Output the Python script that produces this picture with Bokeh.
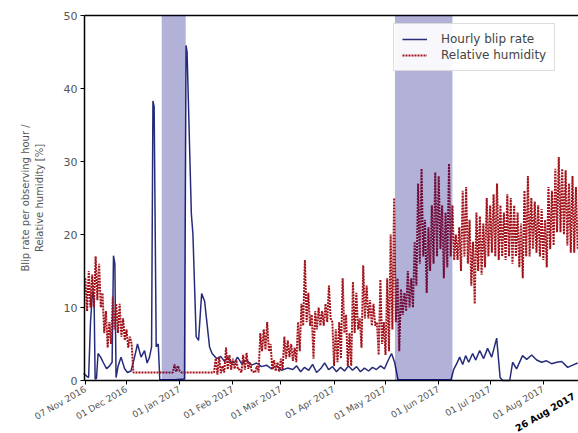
import numpy as np
import pandas as pd
from math import pi
from bokeh.plotting import figure
from bokeh.models import (Range1d, FixedTicker, DatetimeTickFormatter, LinearAxis,
                          BoxAnnotation, Legend, LegendItem, Label, ColumnDataSource)
from bokeh.embed import file_html
from bokeh.resources import INLINE

# ---------------- data ----------------
series_start = "2016-11-07"

# hourly blip rate: day offset from series_start, value
blip_day = [-1.0, 0.7, 1.9, 3.0, 4.2, 5.1, 5.7, 6.5, 7.4, 8.9,
            10.6, 12.4, 14.1, 15.6, 16.4, 17.2, 17.9, 19.1, 20.8, 22.9,
            24.6, 26.6, 28.7, 30.4, 32.5, 34.5, 36.0, 37.4, 38.6, 39.4,
            40.1, 41.3, 42.5, 43.4, 52.0, 57.8, 58.7, 59.3, 61.8, 62.7,
            64.6, 66.0, 67.8, 69.5, 72.4, 73.9, 76.5, 78.9, 81.2, 82.9,
            85.2, 87.0, 88.7, 91.1, 94.0, 96.9, 99.8, 102.7, 105.6, 108.6,
            111.5, 114.4, 117.9, 120.9, 123.2, 125.5, 127.8, 130.2, 132.5, 134.8,
            137.1, 139.5, 141.8, 144.1, 146.4, 148.8, 151.1, 153.4, 155.8, 158.1,
            160.4, 162.7, 165.1, 167.4, 169.7, 172.1, 174.4, 176.2, 178.5, 180.3,
            182.3, 197.8, 213.2, 214.7, 216.5, 218.2, 220.0, 221.7, 223.5, 225.8,
            227.6, 229.9, 232.2, 234.5, 236.9, 239.8, 241.8, 243.3, 247.4, 249.1,
            251.4, 254.9, 257.3, 260.2, 263.1, 266.0, 268.9, 271.8, 274.8, 277.7,
            281.2, 284.1, 287.0]
blip_rate = [1.0, 0.6, 0.4, 8.0, 12.3, 11.0, 0.2, 0.3, 3.7, 3.2,
             2.4, 1.6, 2.0, 2.5, 17.1, 16.0, 0.4, 2.0, 3.2, 1.6,
             1.1, 1.3, 3.2, 5.0, 3.2, 4.1, 2.4, 3.2, 4.6, 38.3,
             37.5, 4.6, 5.0, 0.1, 0.1, 0.2, 45.9, 45.0, 22.8, 20.1,
             6.0, 5.5, 11.9, 10.9, 4.6, 3.7, 3.0, 3.3, 2.6, 3.2,
             2.4, 2.5, 3.2, 2.3, 2.8, 2.1, 2.4, 1.9, 2.1, 1.6,
             2.0, 1.4, 1.7, 1.5, 2.0, 1.2, 1.8, 1.4, 2.2, 1.1,
             1.6, 2.4, 1.5, 1.9, 1.2, 1.8, 1.3, 2.0, 1.4, 1.9,
             1.2, 1.7, 1.3, 1.8, 1.5, 2.0, 1.6, 2.6, 3.7, 2.5,
             0.1, 0.1, 0.1, 1.5, 2.3, 3.2, 2.2, 3.4, 2.5, 3.7,
             2.8, 4.1, 3.0, 4.4, 3.2, 5.8, 0.4, 0.0, 0.0, 2.5,
             1.6, 3.4, 2.9, 3.5, 2.8, 2.5, 2.7, 2.3, 2.5, 2.6,
             1.8, 2.1, 2.4]

# relative humidity: readings every 2 days (high reading, then low reading a day later)
hum_step_days = 2
hum_high = [14, 15, 14.5, 17, 16, 12, 9.5, 8, 11.5, 10.5,
            10.5, 8.5, 7, 6, 1.1, 1.1, 1.1, 1.1, 1.1, 1.1,
            1.1, 1.1, 1.1, 1.1, 1.1, 1.1, 2.2, 2.0, 1.1, 1.1,
            1.1, 1.1, 1.1, 1.1, 1.1, 1.1, 1.1, 1.1, 3.0, 3.2,
            2.0, 4.5, 3.5, 3.0, 2.8, 1.5, 3.5, 3.8, 2.5, 1.2,
            2.0, 6.5, 7.0, 8.0, 5.0, 2.8, 2.5, 3.0, 6.0, 5.5,
            5.0, 4.5, 8.0, 10.5, 16.5, 12.0, 9.0, 9.5, 10.0, 9.5,
            10.5, 13.0, 8.0, 7.0, 8.0, 14.0, 9.0, 6.5, 13.5, 12.0,
            8.5, 15.8, 13.0, 11.0, 10.5, 8.0, 13.8, 8.0, 14.0, 20.0,
            25.0, 14.0, 12.5, 12.0, 15.0, 14.0, 19.0, 27.0, 29.0, 22.0,
            21.0, 24.0, 28.5, 28.0, 24.0, 23.0, 29.7, 24.0, 20.0, 21.0,
            26.0, 26.5, 22.0, 19.0, 23.0, 22.5, 21.5, 25.0, 24.0, 25.5,
            27.0, 24.0, 23.0, 25.5, 25.0, 24.0, 23.0, 21.5, 26.0, 28.0,
            25.0, 24.5, 24.0, 23.5, 22.0, 26.5, 26.0, 29.0, 30.6, 29.0,
            28.8, 27.0, 28.0, 26.5]
hum_low = [9.5, 10, 10, 11, 10, 6.5, 4.5, 5, 7, 6.5,
           6, 5.5, 4.5, 5, 1.1, 1.1, 1.1, 1.1, 1.1, 1.1,
           1.1, 1.1, 1.1, 1.1, 1.1, 1.1, 1.2, 1.3, 1.1, 1.1,
           1.1, 1.1, 1.1, 1.1, 1.1, 1.1, 1.1, 1.1, 0.8, 1.0,
           1.1, 1.5, 1.5, 1.6, 1.5, 1.1, 1.5, 1.6, 1.3, 1.1,
           1.1, 4.0, 4.2, 4.0, 1.5, 1.3, 1.2, 1.5, 3.0, 3.2,
           2.7, 2.5, 4.0, 7.5, 8.0, 7.5, 3.0, 7.0, 7.5, 7.5,
           8.0, 8.5, 2.0, 2.5, 3.0, 6.5, 2.0, 2.0, 6.5, 7.0,
           4.5, 8.5, 8.5, 7.5, 7.5, 3.5, 5.0, 3.5, 4.0, 7.0,
           8.0, 4.0, 9.0, 9.5, 10.0, 10.0, 13.0, 16.0, 17.0, 12.0,
           15.0, 16.0, 17.0, 18.0, 14.0, 15.5, 17.0, 16.5, 16.5, 15.0,
           17.0, 16.0, 13.0, 10.5, 15.0, 14.5, 15.5, 17.0, 17.5, 17.0,
           16.5, 17.0, 16.5, 17.0, 16.0, 17.0, 15.5, 14.0, 17.0, 17.0,
           18.0, 17.5, 17.0, 16.5, 15.5, 18.0, 18.5, 20.3, 20.3, 20.0,
           18.5, 17.5, 17.5, 18.0]

# shaded periods
shade_start = ["2016-12-21 12:00", "2017-05-06 12:00"]
shade_end = ["2017-01-04 12:00", "2017-06-09 00:00"]

# axis ticks
tick_dates = ["2016-11-07", "2016-12-01", "2017-01-01", "2017-02-01", "2017-03-01",
              "2017-04-01", "2017-05-01", "2017-06-01", "2017-07-01", "2017-08-01"]
y_ticks = [0, 10, 20, 30, 40, 50]
y_top = 50
event_label = "26 Aug 2017"
x_start = "2016-11-06 12:00"
x_end = "2017-08-21 12:00"


def ms(s):
    return pd.Timestamp(s).value // 10**6


# ---------------- build sources ----------------
t0 = pd.Timestamp(series_start)
blip_t = t0 + pd.to_timedelta(blip_day, unit="D")
blip_src = ColumnDataSource(dict(t=blip_t, v=blip_rate))

hum_t, hum_v = [], []
for k, (hi, lo) in enumerate(zip(hum_high, hum_low)):
    hum_t.append(t0 + pd.Timedelta(days=hum_step_days * k))
    hum_v.append(hi)
    hum_t.append(t0 + pd.Timedelta(days=hum_step_days * k + hum_step_days / 2))
    hum_v.append(lo)
hum_src = ColumnDataSource(dict(t=hum_t, v=hum_v))

FONT = "DejaVu Sans"

# Layout: the plotting frame covers the whole window; the axes (and the top
# frame line) are pinned at x_start / y = 0 / y = 50 so their labels stay visible.
W, H = 578, 433
TOP_PAD = 15          # pixels above the y = 50 line
FRAME_H_DATA = 365    # pixel height of y in [0, 50]
LEFT_PAD = 84         # pixel position of the y axis
x0, x1 = ms(x_start), ms(x_end)
ms_per_px = (x1 - x0) / (W - LEFT_PAD)
x_view_start = x0 - LEFT_PAD * ms_per_px
unit_per_px = y_top / FRAME_H_DATA
y_view_top = y_top + TOP_PAD * unit_per_px
y_view_bottom = -(H - TOP_PAD - FRAME_H_DATA) * unit_per_px

p = figure(width=W, height=H, x_axis_type="datetime",
           x_range=Range1d(x_view_start, x1), y_range=Range1d(y_view_bottom, y_view_top),
           output_backend="svg", toolbar_location=None,
           min_border_left=0, min_border_right=0, min_border_top=0,
           min_border_bottom=0)
p.grid.visible = False
p.outline_line_color = None
p.background_fill_color = "white"
p.border_fill_color = "white"

r_blip = p.line("t", "v", source=blip_src, line_color="#262c7a", line_width=1.5)
r_hum = p.line("t", "v", source=hum_src, line_color="#a3121a", line_width=2.0,
               line_dash="2 1")

for s, e in zip(shade_start, shade_end):
    p.add_layout(BoxAnnotation(left=ms(s), right=ms(e), bottom=0, top=y_top,
                               fill_color="navy", fill_alpha=0.3, line_color=None))

# x axis
xa = p.xaxis[0]
xa.fixed_location = 0
xa.bounds = (x0, x1)
xa.ticker = FixedTicker(ticks=[ms(d) for d in tick_dates])
fmt = "%d %b %Y"
xa.formatter = DatetimeTickFormatter(microseconds=fmt, milliseconds=fmt, seconds=fmt,
                                     minsec=fmt, minutes=fmt, hourmin=fmt, hours=fmt,
                                     days=fmt, months=fmt, years=fmt)
xa.major_label_orientation = pi / 6
xa.major_label_text_font = FONT
xa.major_label_text_font_size = "9px"
xa.major_label_text_color = "#555555"
xa.major_label_standoff = 4
xa.major_tick_out = 4
xa.major_tick_in = 0
xa.minor_tick_line_color = None
xa.axis_line_width = 1.5
xa.axis_line_color = "black"

# y axis
ya = p.yaxis[0]
ya.fixed_location = x0
ya.bounds = (0, y_top)
ya.ticker = FixedTicker(ticks=y_ticks)
ya.major_label_text_font = FONT
ya.major_label_text_font_size = "11px"
ya.major_label_text_color = "#555555"
ya.major_label_standoff = 3
ya.major_tick_out = 4
ya.major_tick_in = 0
ya.minor_tick_line_color = None
ya.axis_line_width = 1.5
ya.axis_line_color = "black"
ya.axis_label = "Blip rate per observing hour /\nRelative humidity [%]"
ya.axis_label_text_font = FONT
ya.axis_label_text_font_size = "10px"
ya.axis_label_text_font_style = "normal"
ya.axis_label_text_color = "#555555"
ya.axis_label_standoff = 16

# top frame line, pinned at y = 50
top = LinearAxis(ticker=FixedTicker(ticks=[]), axis_line_width=1.5, bounds=(x0, x1),
                 fixed_location=y_top, major_tick_line_color=None,
                 minor_tick_line_color=None, major_label_text_font_size="0px")
p.add_layout(top, "above")

# event label, kept inside the window at the right edge
p.add_layout(Label(x=x1, y=0, x_units="data", y_units="data",
                   x_offset=-7, y_offset=-10, text=event_label, angle=pi / 6,
                   text_align="right", text_baseline="top", text_font=FONT,
                   text_font_size="9.5px", text_font_style="bold",
                   text_color="black"))

legend = Legend(items=[LegendItem(label="Hourly blip rate", renderers=[r_blip]),
                       LegendItem(label="Relative humidity", renderers=[r_hum])],
                location="top_right", margin=0, padding=8, spacing=2,
                glyph_width=25, glyph_height=14, label_standoff=14,
                label_text_font=FONT, label_text_font_size="12px",
                label_text_color="#444444", border_line_color="#bbbbbb",
                background_fill_alpha=0.9)
legend.location = (LEFT_PAD + 309, 309 + (H - TOP_PAD - FRAME_H_DATA))
p.add_layout(legend)

open("out.html", "w").write(file_html(p, INLINE))
